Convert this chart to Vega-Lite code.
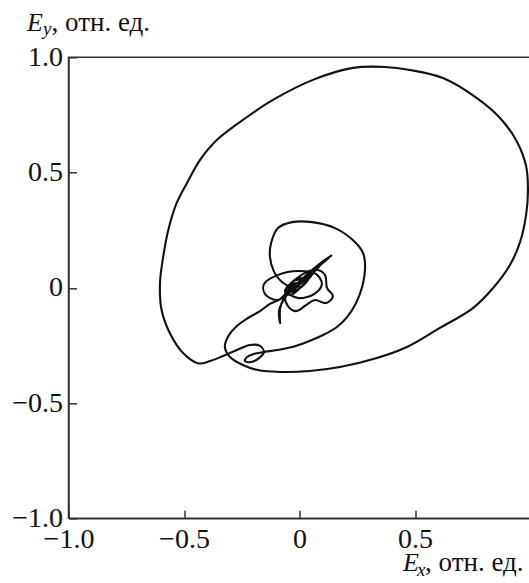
{
  "$schema": "https://vega.github.io/schema/vega-lite/v6.json",
  "width": 462,
  "height": 461,
  "autosize": {"type": "none"},
  "padding": {"left": 68.5, "top": 57.3, "right": 0, "bottom": 64.7},
  "background": "white",
  "config": {
    "view": {"stroke": "#333", "strokeWidth": 1.5},
    "axis": {
      "grid": false,
      "domainColor": "#333",
      "domainWidth": 1.5,
      "tickColor": "#333",
      "tickWidth": 1.5,
      "tickSize": -8,
      "labelFont": "Liberation Serif",
      "labelFontSize": 28,
      "labelColor": "#111",
      "labelFlush": false,
      "labelOverlap": false,
      "title": null
    }
  },
  "layer": [
    {
      "data": {"values": [
        {"i":1,"Ex":0.141,"Ey":0.142},{"i":2,"Ex":0.097,"Ey":0.112},{"i":3,"Ex":0.054,"Ey":0.077},{"i":4,"Ex":0.011,"Ey":0.038},
        {"i":5,"Ex":-0.032,"Ey":-0.001},{"i":6,"Ex":-0.067,"Ey":-0.044},{"i":7,"Ex":-0.084,"Ey":-0.090},{"i":8,"Ex":-0.084,"Ey":-0.154},
        {"i":9,"Ex":-0.088,"Ey":-0.096},{"i":10,"Ex":-0.058,"Ey":-0.036},{"i":11,"Ex":-0.015,"Ey":0.012},{"i":12,"Ex":0.037,"Ey":0.060},
        {"i":13,"Ex":0.089,"Ey":0.103},{"i":14,"Ex":0.132,"Ey":0.134},{"i":15,"Ex":0.080,"Ey":0.090},{"i":16,"Ex":0.024,"Ey":0.043},
        {"i":17,"Ex":-0.024,"Ey":-0.010},
        {"i":17.1,"Ex":0.002,"Ey":0.029},{"i":17.2,"Ex":0.067,"Ey":0.085},{"i":17.3,"Ex":0.115,"Ey":0.124},{"i":17.4,"Ex":0.054,"Ey":0.073},
        {"i":17.5,"Ex":-0.006,"Ey":0.021},{"i":17.6,"Ex":-0.050,"Ey":-0.014},{"i":17.7,"Ex":-0.015,"Ey":0.003},{"i":17.8,"Ex":0.037,"Ey":0.047},
        {"i":17.9,"Ex":0.089,"Ey":0.095},{"i":17.95,"Ex":0.028,"Ey":0.043},{"i":17.98,"Ex":-0.028,"Ey":-0.005},
        {"i":18,"Ex":-0.093,"Ey":-0.053},{"i":19,"Ex":-0.149,"Ey":-0.027},{"i":20,"Ex":-0.154,"Ey":0.016},
        {"i":21,"Ex":-0.093,"Ey":0.056},{"i":22,"Ex":-0.006,"Ey":0.073},{"i":23,"Ex":0.071,"Ey":0.060},{"i":24,"Ex":0.097,"Ey":0.016},
        {"i":25,"Ex":0.063,"Ey":-0.027},{"i":26,"Ex":-0.006,"Ey":-0.044},{"i":27,"Ex":-0.050,"Ey":-0.018},{"i":28,"Ex":-0.032,"Ey":0.025},
        {"i":29,"Ex":0.019,"Ey":0.043},{"i":30,"Ex":0.071,"Ey":0.077},{"i":31,"Ex":0.110,"Ey":0.056},{"i":32,"Ex":0.119,"Ey":-0.001},
        {"i":33,"Ex":0.145,"Ey":-0.036},{"i":34,"Ex":0.115,"Ey":-0.066},{"i":35,"Ex":0.067,"Ey":-0.053},{"i":36,"Ex":0.028,"Ey":-0.075},
        {"i":37,"Ex":-0.015,"Ey":-0.101},{"i":38,"Ex":-0.050,"Ey":-0.079},{"i":39,"Ex":-0.063,"Ey":-0.031},{"i":40,"Ex":-0.041,"Ey":0.012},
        {"i":41,"Ex":0.002,"Ey":0.025},{"i":42,"Ex":0.080,"Ey":0.095},{"i":43,"Ex":0.024,"Ey":0.021},{"i":44,"Ex":-0.028,"Ey":-0.018},
        {"i":45,"Ex":-0.054,"Ey":-0.005},{"i":46,"Ex":0.002,"Ey":0.051},{"i":47,"Ex":0.058,"Ey":0.077},{"i":48,"Ex":0.011,"Ey":0.008},
        {"i":49,"Ex":-0.041,"Ey":-0.031},{"i":50,"Ex":-0.063,"Ey":-0.014},{"i":51,"Ex":-0.011,"Ey":0.038},{"i":52,"Ex":0.037,"Ey":0.038},
        {"i":53,"Ex":-0.015,"Ey":-0.010},{"i":54,"Ex":-0.050,"Ey":0.003},{"i":55,"Ex":-0.024,"Ey":0.021},{"i":56,"Ex":-0.084,"Ey":-0.049},
        {"i":57,"Ex":-0.128,"Ey":-0.070},{"i":58,"Ex":-0.171,"Ey":-0.101},{"i":59,"Ex":-0.223,"Ey":-0.131},{"i":60,"Ex":-0.271,"Ey":-0.166},
        {"i":61,"Ex":-0.310,"Ey":-0.213},{"i":62,"Ex":-0.323,"Ey":-0.257},{"i":63,"Ex":-0.301,"Ey":-0.300},{"i":64,"Ex":-0.245,"Ey":-0.335},
        {"i":65,"Ex":-0.180,"Ey":-0.357},{"i":66,"Ex":-0.084,"Ey":-0.365},{"i":67,"Ex":0.045,"Ey":-0.361},{"i":68,"Ex":0.175,"Ey":-0.344},
        {"i":69,"Ex":0.335,"Ey":-0.305},{"i":70,"Ex":0.465,"Ey":-0.257},{"i":71,"Ex":0.608,"Ey":-0.174},{"i":72,"Ex":0.751,"Ey":-0.088},
        {"i":73,"Ex":0.838,"Ey":-0.001},{"i":74,"Ex":0.911,"Ey":0.099},{"i":75,"Ex":0.955,"Ey":0.199},{"i":76,"Ex":0.981,"Ey":0.316},
        {"i":77,"Ex":0.989,"Ey":0.424},{"i":78,"Ex":0.981,"Ey":0.528},{"i":79,"Ex":0.942,"Ey":0.633},{"i":80,"Ex":0.868,"Ey":0.737},
        {"i":81,"Ex":0.768,"Ey":0.823},{"i":82,"Ex":0.621,"Ey":0.910},{"i":83,"Ex":0.478,"Ey":0.945},{"i":84,"Ex":0.370,"Ey":0.958},
        {"i":85,"Ex":0.232,"Ey":0.954},{"i":86,"Ex":0.058,"Ey":0.902},{"i":87,"Ex":-0.115,"Ey":0.815},{"i":88,"Ex":-0.227,"Ey":0.741},
        {"i":89,"Ex":-0.358,"Ey":0.641},{"i":90,"Ex":-0.431,"Ey":0.554},{"i":91,"Ex":-0.488,"Ey":0.453},{"i":92,"Ex":-0.532,"Ey":0.367},
        {"i":93,"Ex":-0.568,"Ey":0.251},{"i":94,"Ex":-0.590,"Ey":0.135},{"i":95,"Ex":-0.604,"Ey":0.020},{"i":96,"Ex":-0.597,"Ey":-0.096},
        {"i":97,"Ex":-0.561,"Ey":-0.197},{"i":98,"Ex":-0.503,"Ey":-0.284},{"i":100,"Ex":-0.438,"Ey":-0.328},
        {"i":101,"Ex":-0.387,"Ey":-0.318},{"i":102,"Ex":-0.331,"Ey":-0.296},{"i":103,"Ex":-0.271,"Ey":-0.270},{"i":104,"Ex":-0.214,"Ey":-0.248},
        {"i":105,"Ex":-0.171,"Ey":-0.252},{"i":106,"Ex":-0.154,"Ey":-0.279},{"i":107,"Ex":-0.175,"Ey":-0.305},{"i":108,"Ex":-0.210,"Ey":-0.322},
        {"i":109,"Ex":-0.236,"Ey":-0.318},{"i":110,"Ex":-0.227,"Ey":-0.300},{"i":111,"Ex":-0.197,"Ey":-0.287},{"i":112,"Ex":-0.158,"Ey":-0.279},
        {"i":113,"Ex":-0.097,"Ey":-0.270},{"i":114,"Ex":-0.032,"Ey":-0.257},{"i":115,"Ex":0.032,"Ey":-0.235},{"i":116,"Ex":0.102,"Ey":-0.205},
        {"i":117,"Ex":0.162,"Ey":-0.170},{"i":118,"Ex":0.206,"Ey":-0.127},{"i":119,"Ex":0.245,"Ey":-0.066},{"i":120,"Ex":0.271,"Ey":0.003},
        {"i":121,"Ex":0.284,"Ey":0.090},{"i":122,"Ex":0.275,"Ey":0.151},{"i":123,"Ex":0.240,"Ey":0.199},{"i":124,"Ex":0.154,"Ey":0.259},
        {"i":125,"Ex":0.054,"Ey":0.285},{"i":126,"Ex":-0.032,"Ey":0.285},{"i":127,"Ex":-0.093,"Ey":0.259},{"i":128,"Ex":-0.123,"Ey":0.194},
        {"i":129,"Ex":-0.128,"Ey":0.134},{"i":130,"Ex":-0.110,"Ey":0.069},{"i":131,"Ex":-0.076,"Ey":0.025},{"i":132,"Ex":-0.032,"Ey":0.003},
        {"i":133,"Ex":0.002,"Ey":0.008}
      ]},
      "mark": {"type": "line", "interpolate": "catmull-rom", "color": "#111", "strokeWidth": 2.1},
      "encoding": {
        "x": {"field": "Ex", "type": "quantitative", "scale": {"domain": [-1, 1], "nice": false, "zero": false},
              "axis": {"values": [-1, -0.5, 0, 0.5], "labelPadding": 15,
                       "labelExpr": "datum.value == 0 ? '0' : replace(format(datum.value, '.1f'), '-', '\u2212')"}},
        "y": {"field": "Ey", "type": "quantitative", "scale": {"domain": [-1, 1], "nice": false, "zero": false},
              "axis": {"values": [-1, -0.5, 0, 0.5, 1], "labelPadding": 14,
                       "labelExpr": "datum.value == 0 ? '0' : replace(format(datum.value, '.1f'), '-', '\u2212')"}},
        "order": {"field": "i", "type": "quantitative"}
      }
    },
    {
      "data": {"values": [{}]},
      "mark": {"type": "text", "text": "E", "font": "Liberation Serif", "fontStyle": "italic", "fontSize": 26, "align": "left", "baseline": "alphabetic", "color": "#111", "dx": -41.5, "dy": -26},
      "encoding": {"x": {"datum": -1}, "y": {"datum": 1}}
    },
    {
      "data": {"values": [{}]},
      "mark": {"type": "text", "text": "y", "font": "Liberation Serif", "fontStyle": "italic", "fontSize": 19, "align": "left", "baseline": "alphabetic", "color": "#111", "dx": -25.5, "dy": -22},
      "encoding": {"x": {"datum": -1}, "y": {"datum": 1}}
    },
    {
      "data": {"values": [{}]},
      "mark": {"type": "text", "text": ", отн. ед.", "font": "Liberation Serif", "fontSize": 27, "align": "left", "baseline": "alphabetic", "color": "#111", "dx": -17, "dy": -26},
      "encoding": {"x": {"datum": -1}, "y": {"datum": 1}}
    },
    {
      "data": {"values": [{}]},
      "mark": {"type": "text", "text": "E", "font": "Liberation Serif", "fontStyle": "italic", "fontSize": 26, "align": "left", "baseline": "alphabetic", "color": "#111", "dx": -12, "dy": 53},
      "encoding": {"x": {"datum": 0.5}, "y": {"datum": -1}}
    },
    {
      "data": {"values": [{}]},
      "mark": {"type": "text", "text": "x", "font": "Liberation Serif", "fontStyle": "italic", "fontSize": 19, "align": "left", "baseline": "alphabetic", "color": "#111", "dx": 2, "dy": 58},
      "encoding": {"x": {"datum": 0.5}, "y": {"datum": -1}}
    },
    {
      "data": {"values": [{}]},
      "mark": {"type": "text", "text": ", отн. ед.", "font": "Liberation Serif", "fontSize": 27, "align": "left", "baseline": "alphabetic", "color": "#111", "dx": 10, "dy": 53},
      "encoding": {"x": {"datum": 0.5}, "y": {"datum": -1}}
    }
  ]
}
